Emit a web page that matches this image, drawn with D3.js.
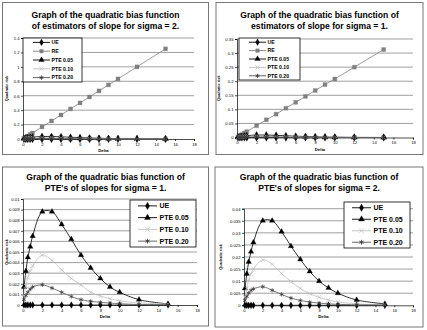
<!DOCTYPE html>
<html>
<head>
<meta charset="utf-8">
<script src="https://cdn.jsdelivr.net/npm/d3@7"></script>
<style>
  body { margin: 0; background: #fff; }
  svg { display: block; }
  text { font-family: "Liberation Sans", Arial, sans-serif; }
</style>
</head>
<body>
<svg width="427" height="330"></svg>
<script>
// delta values used for every series
const delta = [0.1, 0.3, 0.5, 0.75, 1, 2, 3, 4, 5, 6, 7, 8, 9, 10, 12, 15];

// sigma = 1
const ue1    = [0, 0, 0, 0, 0, 0, 0, 0, 0, 0, 0, 0, 0, 0, 0, 0];
const re1    = [0.002, 0.006, 0.010, 0.016, 0.021, 0.042, 0.063, 0.083, 0.104, 0.125, 0.146, 0.167, 0.188, 0.208, 0.25, 0.3125];
const pte05s1 = [0.0017, 0.0032, 0.0045, 0.0055, 0.0065, 0.0088, 0.0088, 0.0076, 0.0062, 0.0047, 0.0035, 0.0025, 0.0017, 0.0012, 0.0005, 0.0001];
const pte10s1 = [0.0009, 0.0018, 0.0026, 0.0032, 0.0037, 0.0047, 0.0042, 0.0033, 0.0025, 0.0019, 0.0012, 0.00085, 0.0006, 0.0004, 0.0002, 0.0001];
const pte20s1 = [0.0005, 0.0009, 0.0012, 0.0015, 0.0017, 0.0019, 0.0016, 0.0012, 0.0008, 0.0005, 0.00035, 0.00025, 0.00018, 0.00012, 0.00005, 0.00002];

// sigma = 2
const ue2    = [0, 0, 0, 0, 0, 0, 0, 0, 0, 0, 0, 0, 0, 0, 0, 0];
const re2    = [0.008, 0.025, 0.042, 0.063, 0.083, 0.167, 0.25, 0.333, 0.417, 0.5, 0.583, 0.667, 0.75, 0.833, 1.0, 1.25];
const pte05s2 = [0.0070, 0.0130, 0.0180, 0.0222, 0.0260, 0.0350, 0.0350, 0.0305, 0.0245, 0.0190, 0.0140, 0.0100, 0.0072, 0.0050, 0.0022, 0.0006];
const pte10s2 = [0.0035, 0.0070, 0.0105, 0.0130, 0.0150, 0.0188, 0.0170, 0.0132, 0.0098, 0.0070, 0.0048, 0.0033, 0.0022, 0.0014, 0.0006, 0.0002];
const pte20s2 = [0.0020, 0.0036, 0.0050, 0.0062, 0.0068, 0.0077, 0.0062, 0.0045, 0.0030, 0.0020, 0.0013, 0.0009, 0.0006, 0.0004, 0.0002, 0.0001];

// tick labels
const xTicks = ["0", "2", "4", "6", "8", "10", "12", "14", "16", "18"];
const yTicksA = ["0", "0.2", "0.4", "0.6", "0.8", "1", "1.2", "1.4"];
const yTicksB = ["0", "0.05", "0.1", "0.15", "0.2", "0.25", "0.3", "0.35"];
const yTicksC = ["0", "0.001", "0.002", "0.003", "0.004", "0.005", "0.006", "0.007", "0.008", "0.009", "0.01"];
const yTicksD = ["0", "0.005", "0.01", "0.015", "0.02", "0.025", "0.03", "0.035", "0.04"];

// series styles
const styles = {
    "UE":       { color: "#000", symbol: d3.symbolDiamond, fill: true },
    "RE":       { color: "#808080", symbol: d3.symbolSquare, fill: true },
    "PTE 0.05": { color: "#000", symbol: d3.symbolTriangle, fill: true },
    "PTE 0.10": { color: "#c0c0c0", symbol: d3.symbolTimes, fill: false },
    "PTE 0.20": { color: "#555", symbol: d3.symbolAsterisk, fill: false }
};

const svg = d3.select("svg");

const panels = [
    {
        box: [2.5, 2.5, 206, 152], titles: ["Graph of the quadratic bias function", "of estimators of slope for sigma = 2."],
        titleY: [18, 28.5], plot: [23, 194, 38, 139], yTicks: yTicksA, yMax: 1.4, ylabX: 6,
        series: [["UE", ue2], ["RE", re2], ["PTE 0.05", pte05s2], ["PTE 0.10", pte10s2], ["PTE 0.20", pte20s2]],
        legend: [23, 38, 59, 44], small: true
    },
    {
        box: [216, 2.5, 207, 152], titles: ["Graph of the quadratic bias function of", "estimators of slope for sigma = 1."],
        titleY: [18, 28.5], plot: [237, 413, 39, 137.5], yTicks: yTicksB, yMax: 0.35, ylabX: 218,
        series: [["UE", ue1], ["RE", re1], ["PTE 0.05", pte05s1], ["PTE 0.10", pte10s1], ["PTE 0.20", pte20s1]],
        legend: [239, 38, 61, 42], small: true
    },
    {
        box: [2.5, 167, 206, 159], titles: ["Graph of the quadratic bias function of", "PTE's of slopes for sigma = 1."],
        titleY: [180, 191], plot: [23, 197, 199, 305], yTicks: yTicksC, yMax: 0.01, ylabX: 6,
        series: [["UE", ue1], ["PTE 0.05", pte05s1], ["PTE 0.10", pte10s1], ["PTE 0.20", pte20s1]],
        legend: [130, 200, 66, 47], small: false
    },
    {
        box: [215, 167, 208, 160], titles: ["Graph of the quadratic bias function of", "PTE's of slopes for sigma = 2."],
        titleY: [180, 191], plot: [244, 413, 208.7, 305.3], yTicks: yTicksD, yMax: 0.04, ylabX: 220,
        series: [["UE", ue2], ["PTE 0.05", pte05s2], ["PTE 0.10", pte10s2], ["PTE 0.20", pte20s2]],
        legend: [344, 202, 66, 46], small: false
    }
];

function drawPanel(p) {
    const g = svg.append("g");
    g.append("rect")
        .attr("x", p.box[0]).attr("y", p.box[1])
        .attr("width", p.box[2]).attr("height", p.box[3])
        .attr("fill", "#fff").attr("stroke", "#777").attr("stroke-width", 1);

    const cx = p.box[0] + p.box[2] / 2;
    p.titles.forEach((t, i) => {
        g.append("text").attr("x", cx).attr("y", p.titleY[i])
            .attr("text-anchor", "middle").attr("font-size", 8.6)
            .attr("font-weight", "bold").text(t);
    });

    const [x0, x1, yTop, yBot] = p.plot;
    const scX = d3.scaleLinear().domain([0, 18]).range([x0, x1]);
    const scY = d3.scaleLinear().domain([0, p.yMax]).range([yBot, yTop]);

    // gridlines
    g.selectAll(".grid").data(p.yTicks.map(Number).filter(v => v > 0))
        .enter().append("line")
        .attr("x1", x0).attr("x2", x1)
        .attr("y1", d => scY(d)).attr("y2", d => scY(d))
        .attr("stroke", "#888").attr("stroke-width", 0.8);

    const axX = g.append("g")
        .attr("transform", `translate(0, ${yBot})`)
        .call(d3.axisBottom(scX).tickValues(xTicks.map(Number)).tickSize(2).tickPadding(2).tickFormat((d, i) => xTicks[i]));
    const axY = g.append("g")
        .attr("transform", `translate(${x0}, 0)`)
        .call(d3.axisLeft(scY).tickValues(p.yTicks.map(Number)).tickSize(2).tickPadding(1.5).tickFormat((d, i) => p.yTicks[i]));
    [axX, axY].forEach(ax => {
        ax.selectAll("text").attr("font-size", 4.2).attr("font-family", "Liberation Sans, Arial").attr("fill", "#000");
        ax.selectAll("line, path").attr("stroke", "#000").attr("stroke-width", 0.7);
    });

    g.append("text").attr("x", (x0 + x1) / 2 - 5).attr("y", yBot + 13)
        .attr("text-anchor", "middle").attr("font-size", 4.3).attr("font-weight", "bold").text("Delta");
    g.append("text")
        .attr("transform", `translate(${p.ylabX + 1.5}, ${(yTop + yBot) / 2}) rotate(-90)`)
        .attr("text-anchor", "middle").attr("font-size", 3.8).attr("font-weight", "bold").text("Quadratic risk");

    const line = d3.line().x(d => scX(d[0])).y(d => scY(d[1])).curve(d3.curveCatmullRom.alpha(0.5));
    const symSize = p.small ? 16 : 13;

    p.series.forEach(([name, vals]) => {
        const st = styles[name];
        const pts = delta.map((d, i) => [d, vals[i]]);
        g.append("path").datum(pts).attr("d", line)
            .attr("fill", "none").attr("stroke", st.color).attr("stroke-width", 0.8);
        g.selectAll(null).data(pts).enter().append("path")
            .attr("transform", d => `translate(${scX(d[0])}, ${scY(d[1])})`)
            .attr("d", d3.symbol().type(st.symbol).size(symSize))
            .attr("fill", st.fill ? st.color : "none")
            .attr("stroke", name === "PTE 0.20" ? "#333" : st.color)
            .attr("stroke-width", st.fill ? 0.3 : 0.7);
    });

    // legend
    const [lx, ly, lw, lh] = p.legend;
    g.append("rect").attr("x", lx).attr("y", ly).attr("width", lw).attr("height", lh)
        .attr("fill", "#fff").attr("stroke", "#000").attr("stroke-width", 0.8);
    const step = lh / p.series.length;
    p.series.forEach(([name], i) => {
        const st = styles[name];
        const ry = ly + step * (i + 0.5);
        const la = lx + (p.small ? 10 : 8), lb = lx + 27;
        g.append("line").attr("x1", la).attr("x2", lb).attr("y1", ry).attr("y2", ry)
            .attr("stroke", st.color).attr("stroke-width", 0.9);
        g.append("path").attr("transform", `translate(${(la + lb) / 2}, ${ry})`)
            .attr("d", d3.symbol().type(st.symbol).size(p.small ? 13 : 16))
            .attr("fill", st.fill ? st.color : "none")
            .attr("stroke", name === "PTE 0.20" ? "#333" : st.color)
            .attr("stroke-width", st.fill ? 0.3 : 0.8);
        g.append("text").attr("x", lb + (p.small ? 1.5 : 2.5)).attr("y", ry)
            .attr("dy", "0.35em").attr("font-size", p.small ? 5.2 : 7)
            .attr("font-weight", "bold").text(name);
    });
}

panels.forEach(drawPanel);
</script>
</body>
</html>
